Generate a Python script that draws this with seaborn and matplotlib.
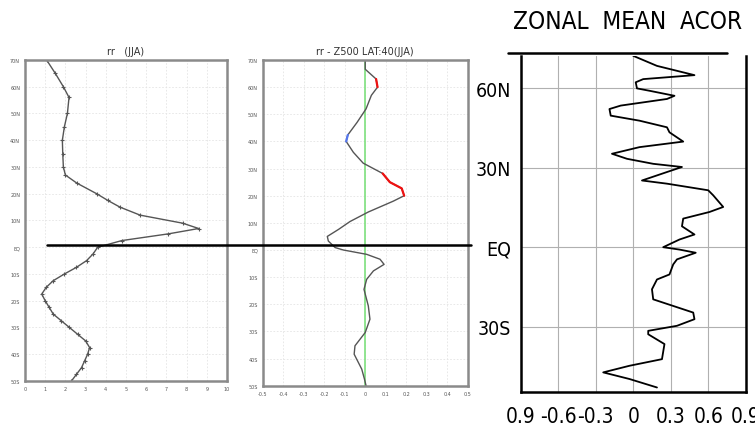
import numpy as np
import pandas as pd
import matplotlib
matplotlib.use("Agg")
import matplotlib.pyplot as plt
from matplotlib.lines import Line2D
from matplotlib import font_manager
import seaborn as sns

# panel 1: rr (JJA) zonal mean, north -> south
rr_lat = [70, 65, 60, 56, 50, 45, 40, 35, 30, 27, 24, 20, 17.5, 15, 12, 9, 7, 5, 2.5, 0,
          -2.5, -5, -7.5, -10, -12.5, -15, -17.5, -20, -22.5, -25, -27.5, -30, -32.5,
          -35, -37.5, -40, -42.5, -45, -47.5, -50]
rr_val = [1.07, 1.5, 1.9, 2.18, 2.1, 1.95, 1.85, 1.87, 1.9, 2.0, 2.56, 3.55, 4.1, 4.7, 5.7,
          7.8, 8.6, 7.1, 4.8, 3.6, 3.37, 3.05, 2.55, 1.95, 1.4, 1.05, 0.83, 1.0, 1.2, 1.4,
          1.8, 2.2, 2.6, 3.0, 3.2, 3.1, 2.95, 2.8, 2.55, 2.3]

# panel 2: rr - Z500 LAT:40 (JJA) correlation; sig: 1 pos, -1 neg, 0 none
cor_lat = [70, 66.6, 63, 60, 57, 52, 47, 42.4, 40, 36, 32, 28.2, 25, 22.7, 20, 18, 14, 10.5,
           7.6, 5, 3.3, 0.9, 0, -1.6, -3.4, -5.3, -7.7, -10.8, -14.5, -20.6, -25.5, -30.4,
           -35.3, -38.4, -43.9, -47.5, -50]
cor_val = [0, 0, 0.053, 0.06, 0.03, 0.004, -0.04, -0.085, -0.093, -0.058, -0.01, 0.085,
           0.12, 0.178, 0.19, 0.137, 0.015, -0.074, -0.13, -0.185, -0.18, -0.147, -0.107,
           0.007, 0.072, 0.092, 0.04, 0.007, -0.006, 0.015, 0.023, 0, -0.05, -0.054,
           -0.017, -0.004, 0.004]
cor_sig = [0, 0, 1, 1, 0, 0, 0, -1, -1, 0, 0, 1, 1, 1, 1, 0, 0, 0, 0, 0, 0, 0, 0, 0, 0, 0,
           0, 0, 0, 0, 0, 0, 0, 0, 0, 0, 0]

# panel 3: zonal mean ACOR
acor_lat = [72.3, 68.5, 65, 63.5, 62.3, 60, 59.1, 57.2, 56, 53.5, 52.2, 49.7, 47.8, 45.3,
            43.4, 39.9, 37.8, 35.3, 33.4, 31.5, 30.3, 28.4, 25.2, 24, 21.5, 19.6, 15.2,
            13.3, 10.8, 7.9, 4.8, 2.9, 0, -0.9, -2.1, -4.6, -6.5, -10.3, -12.2, -15.9,
            -19.7, -22.2, -24.7, -27.2, -29.7, -31.6, -32.9, -36.6, -42.3, -44.8, -47.3,
            -49.8, -53]
acor_val = [0.0, 0.19, 0.49, 0.08, 0.02, 0.03, 0.13, 0.33, 0.27, -0.1, -0.19, -0.18, 0.05,
            0.27, 0.29, 0.40, 0.05, -0.17, -0.05, 0.16, 0.39, 0.27, 0.07, 0.27, 0.60, 0.64,
            0.72, 0.61, 0.40, 0.39, 0.49, 0.37, 0.24, 0.37, 0.50, 0.35, 0.32, 0.29, 0.19,
            0.15, 0.16, 0.32, 0.48, 0.49, 0.35, 0.12, 0.12, 0.25, 0.23, -0.03, -0.24,
            -0.03, 0.19]

lat_ticks = [70, 60, 50, 40, 30, 20, 10, 0, -10, -20, -30, -40, -50]
lat_labels = ["70N", "60N", "50N", "40N", "30N", "20N", "10N", "EQ", "10S", "20S", "30S",
              "40S", "50S"]
rr_xticks = list(range(0, 11))
cor_xticks = [-0.5, -0.4, -0.3, -0.2, -0.1, 0, 0.1, 0.2, 0.3, 0.4, 0.5]
cor_xlabels = ["-0.5", "-0.4", "-0.3", "-0.2", "-0.1", "0", "0.1", "0.2", "0.3", "0.4", "0.5"]
acor_yticks = [60, 30, 0, -30]
acor_ylabels = ["60N", "30N", "EQ", "30S"]
acor_xticks = [-0.9, -0.6, -0.3, 0, 0.3, 0.6, 0.9]
acor_xlabels = ["0.9", "-0.6", "-0.3", "0", "0.3", "0.6", "0.9"]

sns.set_style("white")
plt.rcParams["font.family"] = ["DejaVu Sans"]

# look for a condensed face for the GrADS-like panel
cond = [f for f in font_manager.fontManager.ttflist
        if ("Narrow" in f.name or "Condensed" in f.name
            or f.stretch in ("condensed", "semi-condensed"))
        and f.style == "normal" and f.weight in (400, "normal", "regular")]
if cond:
    big_fp = font_manager.FontProperties(fname=cond[0].fname)
    has_cond = True
else:
    big_fp = font_manager.FontProperties(family="DejaVu Sans")
    has_cond = False

fig = plt.figure(figsize=(7.55, 4.27), dpi=100)
ax1 = fig.add_axes([0.0331, 0.1054, 0.2675, 0.7518])
ax2 = fig.add_axes([0.348, 0.0944, 0.2715, 0.7627])
ax3 = fig.add_axes([0.6897, 0.0803, 0.298, 0.786])

spine_gray = "#8a8a8a"


def style_small(ax, xticks, xlabels, xlim):
    ax.set_ylim(-50, 70)
    ax.set_xlim(*xlim)
    ax.set_yticks(lat_ticks)
    ax.set_yticklabels(lat_labels)
    ax.set_xticks(xticks)
    ax.set_xticklabels(xlabels)
    ax.tick_params(labelsize=3.5, colors="#555555", length=2, width=0.8, pad=1.5)
    ax.grid(True, color="#e4e4e4", lw=0.6, ls=(0, (2, 2)))
    for s in ax.spines.values():
        s.set_color(spine_gray)
        s.set_linewidth(1.8)
    ax.set_xlabel("")
    ax.set_ylabel("")


# panel 1
df1 = pd.DataFrame({"lat": rr_lat, "rr": rr_val})
sns.lineplot(data=df1, x="rr", y="lat", orient="y", estimator=None, ax=ax1,
             color="#555555", lw=1.0, marker="+", markersize=3, markeredgewidth=0.8,
             markeredgecolor="#555555")
style_small(ax1, rr_xticks, [str(v) for v in rr_xticks], (0, 10))
ax1.set_title("rr   (JJA)", fontsize=7, color="#333333", pad=4)

# panel 2
ax2.axvline(0, color="#7ee07e", lw=1.2, zorder=1)
df2 = pd.DataFrame({"lat": cor_lat, "cor": cor_val, "sig": cor_sig})
sns.lineplot(data=df2, x="cor", y="lat", orient="y", estimator=None, ax=ax2,
             color="#555555", lw=1.0)
run_start = None
for i in range(len(cor_sig) + 1):
    s = cor_sig[i] if i < len(cor_sig) else 0
    if run_start is not None and s != cor_sig[run_start]:
        seg = df2.iloc[run_start:i]
        col = "#ee1111" if cor_sig[run_start] > 0 else "#5577ee"
        sns.lineplot(data=seg, x="cor", y="lat", orient="y", estimator=None, ax=ax2,
                     color=col, lw=1.6)
        run_start = None
    if s != 0 and run_start is None:
        run_start = i
style_small(ax2, cor_xticks, cor_xlabels, (-0.5, 0.5))
ax2.set_title("rr - Z500 LAT:40(JJA)", fontsize=7, color="#333333", pad=4)

# panel 3
xsize = 15 if has_cond else 12
ysize = 14 if has_cond else 12.5
tsize = 17.5 if has_cond else 14
df3 = pd.DataFrame({"lat": acor_lat, "acor": acor_val})
sns.lineplot(data=df3, x="acor", y="lat", orient="y", estimator=None, ax=ax3,
             color="black", lw=1.3)
ax3.set_xlim(-0.9, 0.9)
ax3.set_ylim(-54.6, 72.2)
ax3.set_xticks(acor_xticks)
ax3.set_xticklabels(acor_xlabels, fontproperties=big_fp, fontsize=xsize, color="black")
ax3.set_yticks(acor_yticks)
ax3.set_yticklabels(acor_ylabels, fontproperties=big_fp, fontsize=ysize, color="black")
ax3.grid(True, color="#b0b0b0", lw=0.8)
ax3.spines["top"].set_visible(False)
for side in ["left", "right", "bottom"]:
    ax3.spines[side].set_color("black")
    ax3.spines[side].set_linewidth(1.8)
ax3.tick_params(axis="x", direction="inout", length=9, width=1.5, pad=6, color="black")
ax3.tick_params(axis="y", direction="out", length=5, width=1.2, pad=2, color="black")
ax3.set_xlabel("")
ax3.set_ylabel("")
fig.text(0.831, 0.948, "ZONAL  MEAN  ACOR", fontproperties=big_fp, fontsize=tsize,
         ha="center", va="center", color="black")

# overlay lines
fig.add_artist(Line2D([47 / 755, 471 / 755], [1 - 246 / 427] * 2, color="black", lw=1.8,
                      transform=fig.transFigure))
fig.add_artist(Line2D([508 / 755, 727 / 755], [1 - 54.3 / 427] * 2, color="black", lw=1.8,
                      transform=fig.transFigure))

fig.savefig("out.png", dpi=100)
